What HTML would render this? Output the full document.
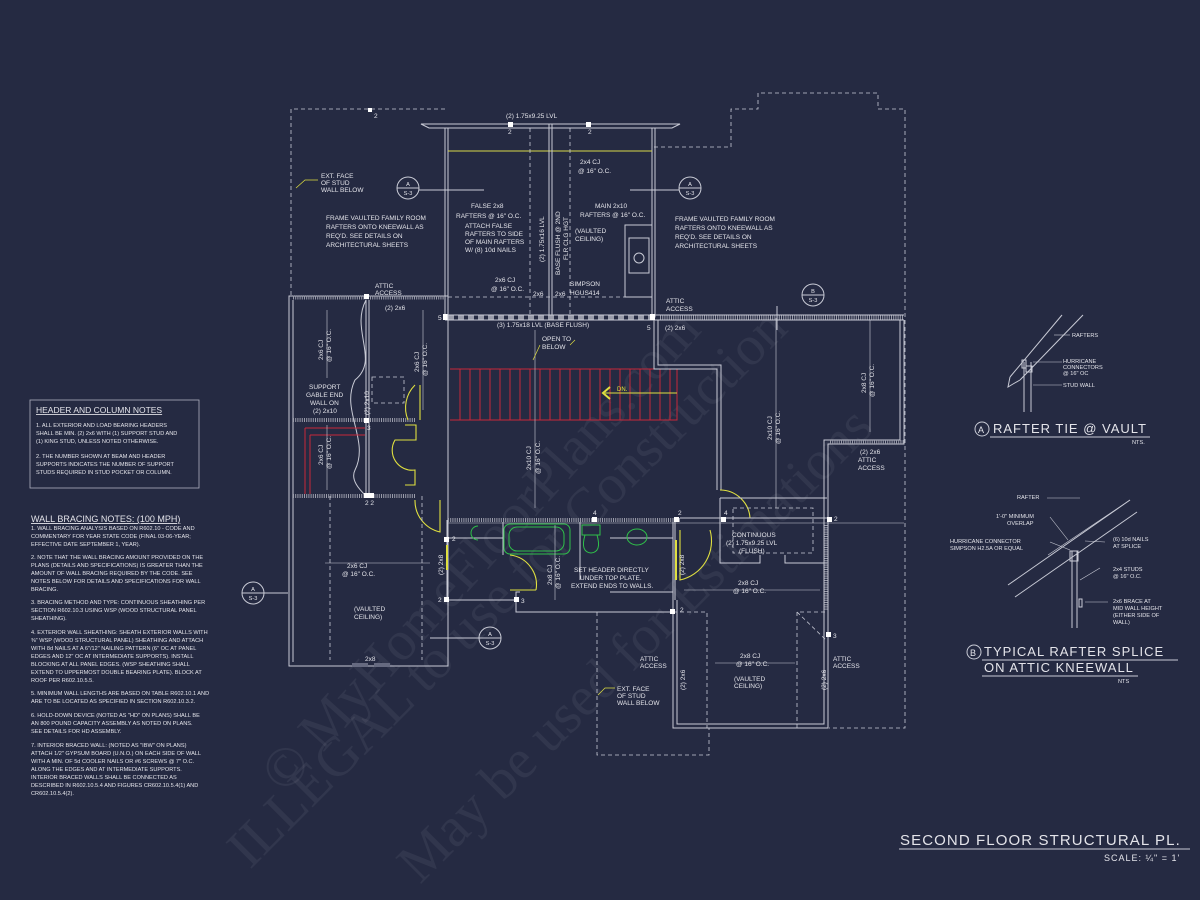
<!DOCTYPE html>
<html><head><meta charset="utf-8">
<style>
html,body{margin:0;padding:0;background:#252a42;}
svg{display:block}
text{font-family:"Liberation Sans",sans-serif;fill:#e4e4ea;}
.t{font-size:6.5px;}
.y{fill:#e8e83a;font-size:6.5px;}
.n{font-size:5.6px;}
.w{stroke:#c9cbd6;stroke-width:1;fill:none}
.d{stroke:#c9cbd6;stroke-width:0.8;fill:none;stroke-dasharray:4,3}
.h{stroke:#9a9caa;stroke-width:4;fill:none;stroke-dasharray:1,1.2}
.r{stroke:#c8283a;stroke-width:1;fill:none}
.yl{stroke:#e0e040;stroke-width:1.1;fill:none}
.g{stroke:#2fc04a;stroke-width:1;fill:none}
.wm{font-family:"Liberation Serif",serif;fill:#ffffff;fill-opacity:0.06;font-size:56px;}
</style></head><body>
<svg width="1200" height="900" viewBox="0 0 1200 900" xmlns="http://www.w3.org/2000/svg">
<rect width="1200" height="900" fill="#252a42"/>

<!-- watermarks -->
<text class="wm" transform="translate(285,795) rotate(-48)">© MyHomeFloorPlans.com</text>
<text class="wm" transform="translate(250,870) rotate(-45)">ILLEGAL to use for Construction</text>
<text class="wm" transform="translate(420,885) rotate(-45)">May be used for Estimations</text>

<!-- dashed exterior outlines -->
<path class="d" d="M291,295 V109 H447"/>
<path class="d" d="M654,147 H731 V109 H758 V93 H878 V109 H905 V728 H829"/>
<path class="d" d="M597,612 V755 H709 V728"/>

<!-- top beam -->
<path class="w" d="M421,124 H680 L672,128 H429 Z"/>
<rect x="445" y="128" width="3" height="189" class="w"/>
<rect x="652" y="128" width="3" height="189" class="w"/>
<line x1="448" y1="151" x2="652" y2="151" stroke="#d8d84a" stroke-width="1"/>
<line class="d" x1="530" y1="128" x2="530" y2="315"/>
<line class="d" x1="570" y1="128" x2="570" y2="315"/>
<line class="w" x1="549" y1="124" x2="549" y2="317"/>
<line class="w" x1="552" y1="124" x2="552" y2="317"/>
<line class="d" x1="448" y1="297" x2="652" y2="297"/>
<rect x="625" y="225" width="27" height="72" class="w"/>
<rect x="629" y="238" width="20" height="35" class="w"/>
<circle cx="639" cy="258" r="5" class="w"/>
<!-- main beam -->
<line class="w" x1="445" y1="315" x2="904" y2="315"/>
<line class="w" x1="445" y1="320" x2="904" y2="320"/>
<line class="h" x1="448" y1="317.5" x2="652" y2="317.5" style="stroke-dasharray:6,4"/>
<line class="h" x1="660" y1="317.5" x2="904" y2="317.5"/>
<rect x="443" y="314" width="5" height="6" fill="#fff"/>
<rect x="650" y="314" width="5" height="6" fill="#fff"/>

<!-- left wing -->
<path class="w" d="M289,296 V666 H448 V296 Z"/>
<path class="w" d="M293,300 V662"/>
<line class="h" x1="293" y1="297.5" x2="445" y2="297.5"/>
<line class="h" x1="293" y1="420" x2="415" y2="420"/>
<line class="h" x1="293" y1="496" x2="415" y2="496"/>
<line class="w" x1="366" y1="300" x2="366" y2="496"/>
<line class="w" x1="369" y1="300" x2="369" y2="496"/>
<path class="w" d="M366,300 C350,330 380,360 355,380 C340,410 370,440 355,470 C350,480 360,490 366,496" />
<rect x="372" y="377" width="32" height="26" class="d"/>
<path class="r" d="M305,428 H365 M310,435 H365 M305,428 V494 M310,435 V494"/>
<path class="yl" d="M415,385 A32,32 0 0 0 408,420 M420,385 V420"/>
<path class="yl" d="M405,425 H416 V440 H395 A20,20 0 0 0 415,470 V485 H405"/>
<path class="yl" d="M415,500 A32,32 0 0 0 440,532 V500"/>
<path class="d" d="M330,496 V660 M422,496 V660"/>
<line class="w" x1="447" y1="520" x2="447" y2="600" stroke-width="3"/>
<line class="yl" x1="447" y1="545" x2="447" y2="570" style="stroke-width:2"/>
<rect x="352" y="663" width="16" height="4" fill="#666a80"/>
<rect x="374" y="663" width="16" height="4" fill="#666a80"/>

<!-- stair -->
<path class="r" d="M450,369 H677 V420 H450"/>
<path class="r" d="M460,369 V420 M470,369 V420 M480,369 V420 M490,369 V420 M500,369 V420 M510,369 V420 M520,369 V420 M530,369 V420 M540,369 V420 M550,369 V420 M560,369 V420 M570,369 V420 M580,369 V420 M590,369 V420 M600,369 V420 M610,369 V420 M620,369 V420 M630,369 V420 M640,369 V420 M650,369 V420 M660,369 V420 M670,369 V420"/>
<line x1="605" y1="393" x2="677" y2="393" stroke="#e0e040" stroke-width="1"/>
<path d="M610,387 L603,393 L610,399" stroke="#e0e040" stroke-width="2" fill="none"/>
<text class="y" x="617" y="391" style="font-size:6px">DN.</text>

<!-- right of stair -->
<path class="w" d="M654,320 V369 H717 V490"/>
<path class="w" d="M658,320 V365 H721 V490"/>
<path class="yl" d="M720,490 A30,30 0 0 1 750,518 M720,518 H748"/>
<line class="w" x1="720" y1="518" x2="720" y2="498"/>
<path class="w" d="M904,320 V444 H828 V728 H673 V518"/>
<path class="w" d="M900,320 V440 H824 V724 H677 V600"/>
<line class="h" x1="830" y1="442" x2="904" y2="442"/>
<line class="h" x1="826" y1="525" x2="826" y2="610" style="stroke-width:3"/>
<path class="w" d="M720,498 H827 M720,498 V563 H760 V555 M785,555 V563 H827"/>
<rect x="733" y="508" width="80" height="45" class="d"/>
<!-- bath -->
<line class="h" x1="448" y1="520" x2="680" y2="520"/>
<line class="w" x1="448" y1="523" x2="904" y2="523" style="stroke-width:0.6"/>
<line class="w" x1="680" y1="518" x2="828" y2="518"/>
<path class="w" d="M448,600 H516 V612 H673 M516,600 V592 H520"/>
<path class="w" d="M448,538 H503 M503,522 V555 M580,522 V580 M610,538 H673 M610,592 H673"/>
<path class="g" d="M478,526 A7,7 0 1 0 478,540"/>
<rect x="504" y="524" width="66" height="30" rx="6" class="g"/>
<rect x="509" y="527" width="55" height="24" rx="8" class="g"/>
<path class="g" d="M582,525 H600 V535 H582 Z M585,535 Q580,552 591,553 Q602,552 597,535"/>
<ellipse cx="637" cy="537" rx="10" ry="8" class="g"/>
<path class="yl" d="M510,555 A30,30 0 0 1 536,590 M510,590 H536"/>
<path class="yl" d="M680,530 V580 A40,40 0 0 0 710,530"/>
<line class="w" x1="675" y1="520" x2="675" y2="600" stroke-width="3"/>
<line class="yl" x1="676" y1="540" x2="676" y2="580" style="stroke-width:2"/>
<path class="d" d="M673,612 H707 V728"/>
<path class="d" d="M797,728 V612 H826"/>
<path class="d" d="M797,612 L826,640"/>

<g fill="#fff">
<rect x="368" y="108" width="4" height="4"/>
<rect x="508" y="122" width="5" height="5"/><rect x="586" y="122" width="5" height="5"/>
<rect x="364" y="294" width="5" height="5"/><rect x="364" y="418" width="5" height="5"/><rect x="364" y="493" width="5" height="5"/><rect x="369" y="493" width="5" height="5"/>
<rect x="444" y="537" width="5" height="5"/><rect x="444" y="597" width="5" height="5"/>
<rect x="592" y="517" width="5" height="5"/><rect x="674" y="517" width="5" height="5"/>
<rect x="721" y="517" width="5" height="5"/><rect x="827" y="517" width="5" height="5"/>
<rect x="514" y="597" width="5" height="5"/><rect x="670" y="609" width="5" height="5"/>
<rect x="826" y="632" width="5" height="5"/>
</g>

<g class="w">
<circle cx="408" cy="188" r="11"/><line x1="397" y1="188" x2="419" y2="188"/>
<circle cx="690" cy="188" r="11"/><line x1="679" y1="188" x2="701" y2="188"/>
<circle cx="813" cy="295" r="11"/><line x1="802" y1="295" x2="824" y2="295"/>
<circle cx="490" cy="638" r="11"/><line x1="479" y1="638" x2="501" y2="638"/>
<circle cx="253" cy="593" r="11"/><line x1="242" y1="593" x2="264" y2="593"/>
<line x1="419" y1="190" x2="484" y2="190"/><line x1="630" y1="190" x2="679" y2="190"/>
<line x1="264" y1="593" x2="288" y2="593"/><line x1="430" y1="638" x2="479" y2="638"/>
<line x1="777" y1="306" x2="777" y2="330"/>
</g>
<g class="n" text-anchor="middle">
<text x="408" y="186">A</text><text x="408" y="195">S-3</text>
<text x="690" y="186">A</text><text x="690" y="195">S-3</text>
<text x="813" y="293">B</text><text x="813" y="302">S-3</text>
<text x="490" y="636">A</text><text x="490" y="645">S-3</text>
<text x="253" y="591">A</text><text x="253" y="600">S-3</text>
</g>

<g stroke="#c9cbd6" stroke-width="0.6">
<line x1="327" y1="310" x2="327" y2="378"/><line x1="423" y1="310" x2="423" y2="410"/>
<line x1="535" y1="330" x2="535" y2="508"/><line x1="776" y1="318" x2="776" y2="508"/>
<line x1="870" y1="320" x2="870" y2="432"/><line x1="327" y1="425" x2="327" y2="490"/>
<line x1="325" y1="563" x2="430" y2="563"/><line x1="555" y1="525" x2="555" y2="600"/>
<line x1="684" y1="590" x2="820" y2="590"/><line x1="715" y1="663" x2="795" y2="663"/>
</g>

<g class="t">
<text x="506" y="118">(2) 1.75x9.25 LVL</text>
<text x="508" y="134">2</text><text x="588" y="134">2</text><text x="374" y="118">2</text>
<text x="580" y="164">2x4 CJ</text><text x="578" y="173">@ 16" O.C.</text>
<text x="471" y="208">FALSE 2x8</text><text x="456" y="218">RAFTERS @ 16" O.C.</text>
<text x="465" y="228">ATTACH FALSE</text><text x="465" y="236">RAFTERS TO SIDE</text><text x="465" y="244">OF MAIN RAFTERS</text><text x="465" y="252">W/ (8) 10d NAILS</text>
<text x="595" y="208">MAIN 2x10</text><text x="580" y="217">RAFTERS @ 16" O.C.</text>
<text x="326" y="220">FRAME VAULTED FAMILY ROOM</text><text x="326" y="229">RAFTERS ONTO KNEEWALL AS</text><text x="326" y="238">REQ'D. SEE DETAILS ON</text><text x="326" y="247">ARCHITECTURAL SHEETS</text>
<text x="675" y="221">FRAME VAULTED FAMILY ROOM</text><text x="675" y="230">RAFTERS ONTO KNEEWALL AS</text><text x="675" y="239">REQ'D. SEE DETAILS ON</text><text x="675" y="248">ARCHITECTURAL SHEETS</text>
<text x="495" y="282">2x6 CJ</text><text x="491" y="291">@ 16" O.C.</text>
<text x="533" y="296">2x6</text><text x="555" y="296">2x6</text>
<text x="570" y="286">SIMPSON</text><text x="570" y="295">HGUS414</text>
<text x="497" y="327">(3) 1.75x18 LVL (BASE FLUSH)</text>
<text x="438" y="320">5</text><text x="647" y="330">5</text>
<text x="385" y="310">(2) 2x6</text><text x="665" y="330">(2) 2x6</text>
<text x="309" y="389">SUPPORT</text><text x="306" y="397">GABLE END</text><text x="310" y="405">WALL ON</text><text x="313" y="413">(2) 2x10</text>
<text x="347" y="568">2x6 CJ</text><text x="342" y="576">@ 16" O.C.</text>
<text x="365" y="661">2x8</text>
<text x="738" y="585">2x8 CJ</text><text x="733" y="593">@ 16" O.C.</text>
<text x="740" y="658">2x8 CJ</text><text x="736" y="666">@ 16" O.C.</text>
<text x="732" y="537">CONTINUOUS</text><text x="726" y="545">(2) 1.75x9.25 LVL</text><text x="739" y="553">(FLUSH)</text>
<text x="574" y="572">SET HEADER DIRECTLY</text><text x="580" y="580">UNDER TOP PLATE.</text><text x="571" y="588">EXTEND ENDS TO WALLS.</text>
<text x="860" y="454">(2) 2x6</text>
<text x="367" y="430">3</text><text x="365" y="505">2 2</text><text x="593" y="515">4</text><text x="678" y="515">2</text><text x="724" y="515">4</text><text x="834" y="521">2</text>
<text x="452" y="541">2</text><text x="438" y="602">2</text><text x="521" y="603">3</text><text x="680" y="612">2</text><text x="833" y="638">3</text>
</g>
<g class="t">
<text transform="translate(323,360) rotate(-90)">2x6 CJ</text><text transform="translate(331,362) rotate(-90)">@ 16" O.C.</text>
<text transform="translate(419,372) rotate(-90)">2x6 CJ</text><text transform="translate(427,376) rotate(-90)">@ 16" O.C.</text>
<text transform="translate(531,470) rotate(-90)">2x10 CJ</text><text transform="translate(540,474) rotate(-90)">@ 16" O.C.</text>
<text transform="translate(772,440) rotate(-90)">2x10 CJ</text><text transform="translate(780,444) rotate(-90)">@ 16" O.C.</text>
<text transform="translate(866,393) rotate(-90)">2x8 CJ</text><text transform="translate(874,397) rotate(-90)">@ 16" O.C.</text>
<text transform="translate(323,465) rotate(-90)">2x6 CJ</text><text transform="translate(331,469) rotate(-90)">@ 16" O.C.</text>
<text transform="translate(552,585) rotate(-90)">2x8 CJ</text><text transform="translate(560,589) rotate(-90)">@ 16" O.C.</text>
<text transform="translate(544,262) rotate(-90)">(2) 1.75x16 LVL</text>
<text transform="translate(560,275) rotate(-90)">BASE FLUSH @ 2ND</text><text transform="translate(568,260) rotate(-90)">FLR CLG HGT</text>
<text transform="translate(369,415) rotate(-90)">(2) 2x10</text>
<text transform="translate(443,575) rotate(-90)">(2) 2x8</text><text transform="translate(684,575) rotate(-90)">(2) 2x8</text>
<text transform="translate(685,690) rotate(-90)">(2) 2x6</text><text transform="translate(826,690) rotate(-90)">(2) 2x6</text>
</g>
<g class="y">
<text x="321" y="178">EXT. FACE</text><text x="321" y="185">OF STUD</text><text x="321" y="192">WALL BELOW</text>
<text x="575" y="233">(VAULTED</text><text x="575" y="241">CEILING)</text>
<text x="375" y="288">ATTIC</text><text x="375" y="295">ACCESS</text>
<text x="666" y="303">ATTIC</text><text x="666" y="311">ACCESS</text>
<text x="542" y="341">OPEN TO</text><text x="542" y="349">BELOW</text>
<text x="858" y="462">ATTIC</text><text x="858" y="470">ACCESS</text>
<text x="354" y="611">(VAULTED</text><text x="354" y="619">CEILING)</text>
<text x="640" y="661">ATTIC</text><text x="640" y="668">ACCESS</text>
<text x="833" y="661">ATTIC</text><text x="833" y="668">ACCESS</text>
<text x="734" y="681">(VAULTED</text><text x="734" y="688">CEILING)</text>
<text x="617" y="691">EXT. FACE</text><text x="617" y="698">OF STUD</text><text x="617" y="705">WALL BELOW</text>
</g>
<path class="yl" d="M296,188 L305,180 H318 M533,360 L540,345 M598,695 L605,688 H615 M570,345 L575,340" style="stroke-width:0.7"/>

<rect x="30" y="400" width="169" height="88" fill="none" stroke="#aeb0bf" stroke-width="0.8"/>
<text x="36" y="413" style="font-size:8.5px" text-decoration="underline">HEADER AND COLUMN NOTES</text>
<g class="n">
<text x="36" y="427">1. ALL EXTERIOR AND LOAD BEARING HEADERS</text>
<text x="36" y="435">SHALL BE MIN. (2) 2x6 WITH (1) SUPPORT STUD AND</text>
<text x="36" y="443">(1) KING STUD, UNLESS NOTED OTHERWISE.</text>
<text x="36" y="458">2. THE NUMBER SHOWN AT BEAM AND HEADER</text>
<text x="36" y="466">SUPPORTS INDICATES THE NUMBER OF SUPPORT</text>
<text x="36" y="474">STUDS REQUIRED IN STUD POCKET OR COLUMN.</text>
</g>
<text x="31" y="522" style="font-size:9px" text-decoration="underline">WALL BRACING NOTES: (100 MPH)</text>
<g class="n">
<text x="31" y="530">1. WALL BRACING ANALYSIS BASED ON R602.10 - CODE AND</text>
<text x="31" y="538">COMMENTARY FOR YEAR STATE CODE (FINAL 03-06-YEAR;</text>
<text x="31" y="546">EFFECTIVE DATE SEPTEMBER 1, YEAR).</text>
<text x="31" y="559">2. NOTE THAT THE WALL BRACING AMOUNT PROVIDED ON THE</text>
<text x="31" y="567">PLANS (DETAILS AND SPECIFICATIONS) IS GREATER THAN THE</text>
<text x="31" y="575">AMOUNT OF WALL BRACING REQUIRED BY THE CODE. SEE</text>
<text x="31" y="583">NOTES BELOW FOR DETAILS AND SPECIFICATIONS FOR WALL</text>
<text x="31" y="591">BRACING.</text>
<text x="31" y="604">3. BRACING METHOD AND TYPE: CONTINUOUS SHEATHING PER</text>
<text x="31" y="612">SECTION R602.10.3 USING WSP (WOOD STRUCTURAL PANEL</text>
<text x="31" y="620">SHEATHING).</text>
<text x="31" y="634">4. EXTERIOR WALL SHEATHING: SHEATH EXTERIOR WALLS WITH</text>
<text x="31" y="642">⅜" WSP (WOOD STRUCTURAL PANEL) SHEATHING AND ATTACH</text>
<text x="31" y="650">WITH 8d NAILS AT A 6"/12" NAILING PATTERN (6" OC AT PANEL</text>
<text x="31" y="658">EDGES AND 12" OC AT INTERMEDIATE SUPPORTS). INSTALL</text>
<text x="31" y="666">BLOCKING AT ALL PANEL EDGES. (WSP SHEATHING SHALL</text>
<text x="31" y="674">EXTEND TO UPPERMOST DOUBLE BEARING PLATE). BLOCK AT</text>
<text x="31" y="682">ROOF PER R602.10.5.5.</text>
<text x="31" y="695">5. MINIMUM WALL LENGTHS ARE BASED ON TABLE R602.10.1 AND</text>
<text x="31" y="703">ARE TO BE LOCATED AS SPECIFIED IN SECTION R602.10.3.2.</text>
<text x="31" y="717">6. HOLD-DOWN DEVICE (NOTED AS "HD" ON PLANS) SHALL BE</text>
<text x="31" y="725">AN 800 POUND CAPACITY ASSEMBLY AS NOTED ON PLANS.</text>
<text x="31" y="733">SEE DETAILS FOR HD ASSEMBLY.</text>
<text x="31" y="747">7. INTERIOR BRACED WALL: (NOTED AS "IBW" ON PLANS)</text>
<text x="31" y="755">ATTACH 1/2" GYPSUM BOARD (U.N.O.) ON EACH SIDE OF WALL</text>
<text x="31" y="763">WITH A MIN. OF 5d COOLER NAILS OR #6 SCREWS @ 7" O.C.</text>
<text x="31" y="771">ALONG THE EDGES AND AT INTERMEDIATE SUPPORTS.</text>
<text x="31" y="779">INTERIOR BRACED WALLS SHALL BE CONNECTED AS</text>
<text x="31" y="787">DESCRIBED IN R602.10.5.4 AND FIGURES CR602.10.5.4(1) AND</text>
<text x="31" y="795">CR602.10.5.4(2).</text>
</g>

<g class="w">
<line x1="1010" y1="377" x2="1062" y2="315"/><line x1="1020" y1="380" x2="1083" y2="315"/>
<path d="M1010,377 L1008,387 L1013,384 L1020,380"/>
<line x1="1024" y1="362" x2="1024" y2="412"/><line x1="1031" y1="362" x2="1031" y2="412"/>
<rect x="1022" y="360" width="4" height="8"/><rect x="1026" y="366" width="6" height="6"/>
</g>
<g stroke="#c9cbd6" stroke-width="0.6"><line x1="1054" y1="335" x2="1070" y2="335"/><line x1="1033" y1="362" x2="1062" y2="362"/><line x1="1033" y1="385" x2="1062" y2="385"/></g>
<g class="n"><text x="1072" y="337">RAFTERS</text><text x="1063" y="363">HURRICANE</text><text x="1063" y="369">CONNECTORS</text><text x="1063" y="375">@ 16" OC</text><text x="1063" y="387">STUD WALL</text></g>
<circle cx="982" cy="429" r="7" class="w"/><text x="978" y="433" style="font-size:9px">A</text>
<text x="993" y="433" style="font-size:13px;letter-spacing:1px">RAFTER TIE @ VAULT</text>
<line class="w" x1="990" y1="437" x2="1150" y2="437"/>
<text x="1132" y="444" class="n">NTS.</text>

<g class="w">
<line x1="1008" y1="585" x2="1130" y2="500"/><line x1="1015" y1="597" x2="1137" y2="512"/>
<line x1="1048" y1="555" x2="1130" y2="500" style="stroke-width:0.6"/>
<line x1="1072" y1="551" x2="1072" y2="628"/><line x1="1077" y1="551" x2="1077" y2="628"/>
<rect x="1070" y="551" width="8" height="10"/><rect x="1079" y="599" width="3" height="8"/>
</g>
<g stroke="#c9cbd6" stroke-width="0.6"><line x1="1047" y1="498" x2="1080" y2="498"/><line x1="1050" y1="517" x2="1068" y2="540"/><line x1="1050" y1="542" x2="1070" y2="550"/><line x1="1085" y1="541" x2="1105" y2="542"/><line x1="1080" y1="580" x2="1100" y2="568"/><line x1="1085" y1="602" x2="1108" y2="602"/></g>
<g class="n">
<text x="1017" y="499">RAFTER</text><text x="996" y="518">1'-0" MINIMUM</text><text x="1007" y="525">OVERLAP</text>
<text x="950" y="543">HURRICANE CONNECTOR</text><text x="950" y="550">SIMPSON H2.5A OR EQUAL</text>
<text x="1113" y="541">(6) 10d NAILS</text><text x="1113" y="548">AT SPLICE</text>
<text x="1113" y="571">2x4 STUDS</text><text x="1113" y="578">@ 16" O.C.</text>
<text x="1113" y="603">2x6 BRACE AT</text><text x="1113" y="610">MID WALL HEIGHT</text><text x="1113" y="617">(EITHER SIDE OF</text><text x="1113" y="624">WALL)</text>
</g>
<circle cx="974" cy="652" r="7" class="w"/><text x="970" y="656" style="font-size:9px">B</text>
<text x="984" y="656" style="font-size:13px;letter-spacing:1px">TYPICAL RAFTER SPLICE</text>
<line class="w" x1="982" y1="660" x2="1178" y2="660"/>
<text x="984" y="672" style="font-size:13px;letter-spacing:1px">ON ATTIC KNEEWALL</text>
<line class="w" x1="982" y1="676" x2="1138" y2="676"/>
<text x="1118" y="683" class="n">NTS</text>

<text x="900" y="845" style="font-size:15px;letter-spacing:1.1px">SECOND FLOOR STRUCTURAL PL.</text>
<line class="w" x1="899" y1="849" x2="1190" y2="849"/>
<text x="1104" y="861" style="font-size:9px;letter-spacing:1px">SCALE: ¼" = 1'</text>
</svg>
</body></html>
